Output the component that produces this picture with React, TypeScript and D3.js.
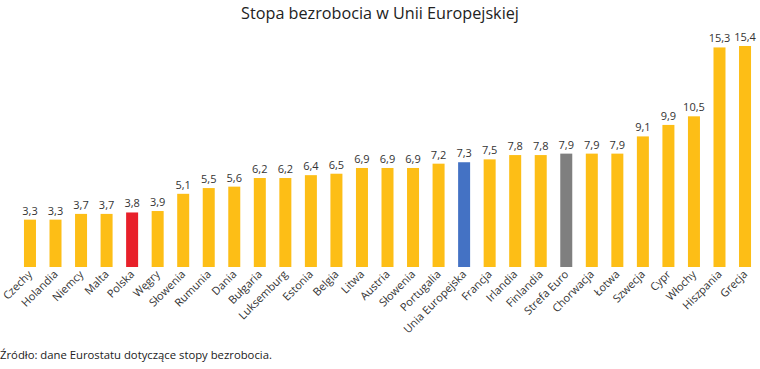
import React from "react";
import * as d3 from "d3";

const categories = ["Czechy","Holandia","Niemcy","Malta","Polska","Węgry","Słowenia","Rumunia","Dania","Bułgaria","Luksemburg","Estonia","Belgia","Litwa","Austria","Słowenia","Portugalia","Unia Europejska","Francja","Irlandia","Finlandia","Strefa Euro","Chorwacja","Łotwa","Szwecja","Cypr","Włochy","Hiszpania","Grecja"];
const values = [3.3,3.3,3.7,3.7,3.8,3.9,5.1,5.5,5.6,6.2,6.2,6.4,6.5,6.9,6.9,6.9,7.2,7.3,7.5,7.8,7.8,7.9,7.9,7.9,9.1,9.9,10.5,15.3,15.4];
const highlights: Record<string, string> = { "Polska": "#E8202A", "Unia Europejska": "#4472C4", "Strefa Euro": "#7F7F7F" };
const title = "Stopa bezrobocia w Unii Europejskiej";
const source = "Źródło: dane Eurostatu dotyczące stopy bezrobocia.";

const W = 760, H = 369;
const FONT = "'Open Sans', 'Noto Sans', sans-serif";

export default function App() {
  const idx = categories.map((_, i) => String(i));
  const x = d3.scaleBand<string>().domain(idx).range([11.2, 763.8]).paddingInner(0.53).paddingOuter(0.5);
  const y = d3.scaleLinear().domain([0, 15.4]).range([267, 46]);
  const fmt = (v: number) => d3.format(".1f")(v).replace(".", ",");
  return (
    <svg width={W} height={H} style={{ position: "absolute", left: 0, top: 0, background: "#fff" }} fontFamily={FONT}>
      <text x={380} y={19} textAnchor="middle" fontSize={16.2} fill="#222">{title}</text>
      {values.map((v, i) => {
        const cx = x(String(i))! + x.bandwidth() / 2;
        return (
          <g key={i}>
            <rect x={x(String(i))} y={y(v)} width={x.bandwidth()} height={y(0) - y(v)} fill={highlights[categories[i]] || "#FDBE16"} />
            <text x={cx} y={y(v) - 5} textAnchor="middle" fontSize={11} fill="#333">{fmt(v)}</text>
            <text transform={`translate(${cx + 3},${y(0) + 8}) rotate(-45)`} textAnchor="end" fontSize={11} fill="#333">{categories[i]}</text>
          </g>
        );
      })}
      <text x={0} y={359} fontSize={11.3} fill="#222">{source}</text>
    </svg>
  );
}
